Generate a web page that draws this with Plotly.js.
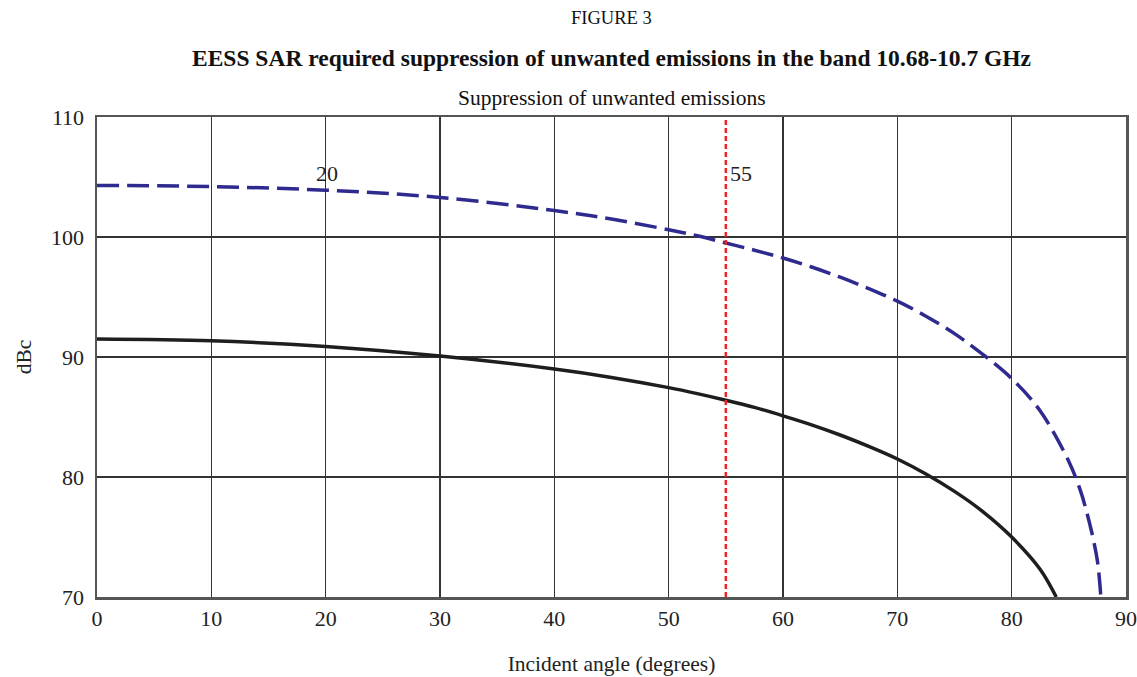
<!DOCTYPE html>
<html>
<head>
<meta charset="utf-8">
<script src="https://cdn.plot.ly/plotly-3.0.1.min.js"></script>
<style>html,body{margin:0;padding:0;background:#fff;}#chart{width:1137px;height:677px;}</style>
</head>
<body>
<div id="chart"></div>
<script>
// Incident angle (degrees) and required suppression (dBc)
const dashedAngle = [0, 10, 20, 30, 40, 45, 50, 52.5, 55, 57.5, 60, 62.5, 65, 67.5, 70, 72.5, 75, 77.5, 80, 82.5, 85, 86, 86.5, 87, 87.5, 87.8];
const dashedDbc   = [104.3, 104.2, 103.9, 103.3, 102.2, 101.5, 100.6, 100.1, 99.5, 98.9, 98.25, 97.5, 96.65, 95.7, 94.65, 93.4, 91.95, 90.2, 88.2, 85.5, 81.3, 78.9, 77.3, 75.4, 73.0, 70];
const solidAngle  = [0, 10, 20, 30, 40, 45, 50, 52.5, 55, 57.5, 60, 62.5, 65, 67.5, 70, 72.5, 75, 77.5, 80, 82.5, 83.9];
const solidDbc    = [91.5, 91.35, 90.88, 90.08, 89.0, 88.3, 87.45, 86.95, 86.4, 85.8, 85.1, 84.35, 83.5, 82.55, 81.5, 80.25, 78.8, 77.1, 75.0, 72.3, 70];
const markerAngle = [55, 55];
const markerDbc   = [70, 110];
const xTicks = [0, 10, 20, 30, 40, 50, 60, 70, 80, 90];
const yTicks = [70, 80, 90, 100, 110];
const labelText = ["20", "55"];
const labelX = [20, 55];
const labelY = [105.3, 105.3];

const serif = "Liberation Serif, Times New Roman, serif";

const traces = [
  {x: dashedAngle, y: dashedDbc, mode: "lines", line: {color: "#2f2a8e", width: 3.5, dash: "22px,8px", shape: "spline", smoothing: 1, simplify: false}, hoverinfo: "skip"},
  {x: solidAngle, y: solidDbc, mode: "lines", line: {color: "#1e1e1e", width: 3.5, shape: "spline", smoothing: 1, simplify: false}, hoverinfo: "skip"},
  {x: markerAngle, y: markerDbc, mode: "lines", line: {color: "#ee2222", width: 2.5, dash: "5px,3px"}, hoverinfo: "skip"}
];

const annotations = [
  {text: "FIGURE 3", xref: "paper", yref: "paper", x: 0.5, y: 1 + (117 - 18) / 480, yanchor: "middle", showarrow: false, font: {family: serif, size: 18.5, color: "#111"}},
  {text: "<b>EESS SAR required suppression of unwanted emissions in the band 10.68-10.7 GHz</b>", xref: "paper", yref: "paper", x: 0.5, y: 1 + (117 - 58) / 480, yanchor: "middle", showarrow: false, font: {family: serif, size: 23.5, color: "#111"}},
  {text: "Suppression of unwanted emissions", xref: "paper", yref: "paper", x: 0.5, y: 1 + (117 - 98) / 480, yanchor: "middle", showarrow: false, font: {family: serif, size: 21.5, color: "#111"}}
];
for (let i = 0; i < labelText.length; i++) {
  annotations.push({text: labelText[i], x: labelX[i], y: labelY[i], xref: "x", yref: "y", showarrow: false, xanchor: "left", xshift: i === 0 ? -12 : 2, font: {family: serif, size: 22, color: "#222"}});
}

const layout = {
  width: 1137, height: 677,
  margin: {l: 97, r: 11, t: 117, b: 80},
  paper_bgcolor: "#fff", plot_bgcolor: "#fff",
  showlegend: false,
  font: {family: serif, size: 22, color: "#222"},
  xaxis: {
    range: [0, 90], tickvals: xTicks, ticks: "", showgrid: true, gridcolor: "#333", gridwidth: 1.2,
    zeroline: false, showline: true, mirror: true, linecolor: "#555", linewidth: 2.5,
    ticklabelstandoff: 0,
    title: {text: "Incident angle (degrees)", font: {family: serif, size: 21.5, color: "#222"}, standoff: 26},
    tickfont: {family: serif, size: 22, color: "#222"}
  },
  yaxis: {
    range: [70, 110], tickvals: yTicks, ticks: "", showgrid: true, gridcolor: "#333", gridwidth: 1.2,
    zeroline: false, showline: true, mirror: true, linecolor: "#555", linewidth: 2.5,
    ticklabelstandoff: 6,
    title: {text: "dBc", font: {family: serif, size: 21.5, color: "#222"}, standoff: 14},
    tickfont: {family: serif, size: 22, color: "#222"}
  },
  annotations: annotations
};

Plotly.newPlot("chart", traces, layout, {staticPlot: true, displayModeBar: false});
</script>
</body>
</html>
